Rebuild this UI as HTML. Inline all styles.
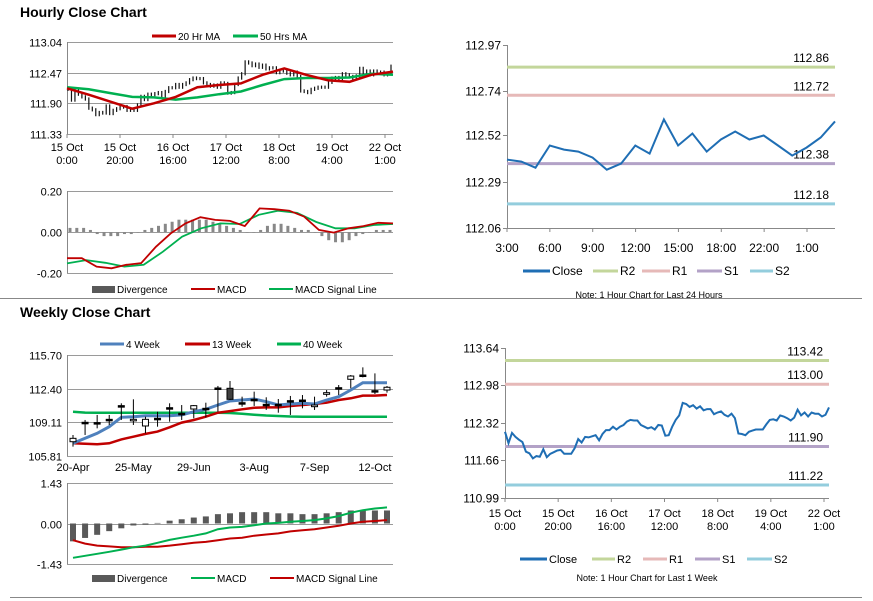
<!DOCTYPE html>
<html><head><meta charset="utf-8">
<style>
html,body{margin:0;padding:0;background:#fff;}
svg{display:block;font-family:"Liberation Sans",Arial,sans-serif;}
.n{font-family:"Liberation Sans Narrow","Liberation Sans",sans-serif;}
</style></head>
<body>
<svg id="root" width="873" height="601" viewBox="0 0 873 601"></svg>
<script>
// ---------- DATA ----------
const hourlyClose=[112.16,111.96,112.14,112.07,112.02,111.98,111.81,111.78,111.69,111.73,111.72,111.85,111.71,111.77,111.80,111.83,111.84,111.77,111.77,111.77,111.87,112.03,111.97,112.07,112.06,112.08,112.10,112.01,112.12,112.19,112.19,112.25,112.20,112.25,112.28,112.34,112.37,112.36,112.36,112.28,112.25,112.22,112.24,112.20,112.28,112.27,112.09,112.10,112.25,112.37,112.45,112.67,112.65,112.60,112.63,112.57,112.61,112.54,112.56,112.56,112.47,112.50,112.52,112.46,112.43,112.48,112.40,112.13,112.12,112.10,112.16,112.18,112.20,112.20,112.20,112.29,112.37,112.38,112.36,112.45,112.43,112.40,112.36,112.41,112.55,112.45,112.50,112.43,112.50,112.48,112.48,112.43,112.46,112.59];
const ma20=[112.18,112.06,111.93,111.80,111.90,112.02,112.20,112.24,112.27,112.43,112.55,112.43,112.33,112.30,112.43,112.49];
const ma50=[112.20,112.16,112.09,112.02,112.01,111.97,112.01,112.07,112.12,112.24,112.35,112.37,112.37,112.38,112.45,112.43];
const hMacd=[-0.128,-0.128,-0.169,-0.177,-0.16,-0.152,-0.072,-0.007,0.042,0.072,0.059,0.054,0.029,0.115,0.111,0.104,0.075,0.010,-0.003,0.018,0.029,0.045,0.042];
const hSignal=[-0.153,-0.137,-0.15,-0.169,-0.16,-0.096,-0.023,0.018,0.042,0.039,0.084,0.104,0.093,0.049,0.018,0.018,0.034,0.039];
const hDiv=[0.02,0.02,0.02,0.01,-0.01,-0.02,-0.02,-0.02,-0.01,-0.01,0,0.01,0.02,0.03,0.04,0.05,0.06,0.06,0.06,0.06,0.06,0.05,0.04,0.03,0.02,0.01,0,0,0.01,0.03,0.04,0.04,0.03,0.02,0.01,0.01,0,-0.02,-0.04,-0.05,-0.05,-0.04,-0.02,-0.01,0,0.01,0.01,0.01];
const hTicks=[["15 Oct","0:00"],["15 Oct","20:00"],["16 Oct","16:00"],["17 Oct","12:00"],["18 Oct","8:00"],["19 Oct","4:00"],["22 Oct","1:00"]];
const dayClose=[112.40,112.39,112.36,112.47,112.45,112.44,112.41,112.35,112.38,112.47,112.43,112.60,112.47,112.53,112.44,112.50,112.54,112.50,112.52,112.47,112.42,112.46,112.51,112.59];
const dayTicks=["3:00","6:00","9:00","12:00","15:00","18:00","22:00","1:00"];
const dayLevels=[112.86,112.72,112.38,112.18];
const weekLevels=[113.42,113.00,111.90,111.22];
const levelNames=["R2","R1","S1","S2"];
const levelColors=["#c3d69b","#e6b9b8","#b3a2c7","#93cddd"];
const wOpen=[107.21,109.11,109.08,109.40,110.74,109.27,108.75,109.50,110.54,109.99,110.41,110.48,112.47,112.44,111.03,111.36,110.87,110.87,111.23,111.29,110.64,111.85,112.50,113.32,113.74,112.21,112.27];
const wClose=[107.54,109.11,109.08,109.40,110.74,109.40,109.40,109.50,110.54,109.99,110.74,110.48,112.47,111.36,111.03,111.36,110.87,110.87,111.23,111.29,110.80,112.01,112.50,113.64,113.74,112.21,112.54];
const wHigh=[107.87,109.34,109.83,109.83,110.97,111.36,109.66,110.15,110.97,110.80,110.80,111.03,112.67,113.15,111.62,112.11,111.56,111.39,111.69,111.78,111.62,112.27,112.76,113.74,114.49,113.90,112.67];
const wLow=[106.73,107.87,108.52,108.85,109.34,108.85,108.03,108.68,109.17,109.34,109.50,109.60,110.15,111.29,110.64,110.71,110.32,110.05,109.83,110.48,110.32,111.62,111.78,112.44,113.51,111.88,112.01];
const wk4=[107.05,107.55,108.03,108.68,109.60,109.66,109.76,109.76,109.76,109.83,110.15,110.38,110.80,111.20,111.29,111.39,111.13,110.80,110.90,110.97,110.90,111.29,111.62,112.27,112.99,112.99,112.99];
const wk13=[107.05,107.00,106.96,107.05,107.44,107.70,107.97,108.20,108.62,109.08,109.34,109.66,110.05,110.21,110.38,110.54,110.57,110.57,110.71,110.80,110.90,111.03,111.29,111.46,111.72,111.72,111.78];
const wk40=[110.15,110.06,110.05,110.05,110.05,110.05,110.05,110.05,110.05,110.05,110.05,110.05,110.05,110.02,109.95,109.85,109.78,109.73,109.68,109.66,109.66,109.66,109.66,109.66,109.66,109.66,109.66];
const wDiv=[-0.63,-0.51,-0.40,-0.27,-0.17,-0.07,-0.04,0.02,0.10,0.15,0.21,0.25,0.33,0.36,0.40,0.40,0.40,0.36,0.36,0.33,0.33,0.36,0.40,0.46,0.46,0.46,0.46];
const wMacd=[-1.21,-1.14,-1.07,-1.00,-0.92,-0.84,-0.78,-0.68,-0.58,-0.50,-0.43,-0.35,-0.20,-0.14,-0.12,-0.06,0.00,0.02,0.06,0.09,0.12,0.18,0.26,0.38,0.47,0.53,0.57];
const wSignal=[-0.59,-0.71,-0.78,-0.81,-0.84,-0.84,-0.82,-0.82,-0.78,-0.73,-0.68,-0.65,-0.59,-0.53,-0.50,-0.43,-0.39,-0.35,-0.28,-0.24,-0.20,-0.14,-0.08,0.00,0.06,0.09,0.12];
const wTicks=["20-Apr","25-May","29-Jun","3-Aug","7-Sep","12-Oct"];
const wTickIdx=[0,5,10,15,20,25];
const weekCloseFull=[112.16,111.96,112.14,112.07,112.02,111.98,111.81,111.78,111.69,111.73,111.72,111.85,111.71,111.77,111.80,111.83,111.84,111.77,111.77,111.77,111.87,112.03,111.97,112.07,112.06,112.08,112.10,112.01,112.12,112.19,112.19,112.25,112.20,112.25,112.28,112.34,112.37,112.36,112.36,112.28,112.25,112.22,112.24,112.20,112.28,112.27,112.09,112.10,112.25,112.37,112.45,112.67,112.65,112.60,112.63,112.57,112.61,112.54,112.56,112.56,112.47,112.50,112.52,112.46,112.43,112.48,112.40,112.13,112.12,112.10,112.16,112.18,112.20,112.20,112.20,112.29,112.37,112.38,112.36,112.45,112.43,112.40,112.36,112.41,112.55,112.45,112.50,112.43,112.50,112.48,112.48,112.43,112.46,112.59];

// ---------- HELPERS ----------
const NS="http://www.w3.org/2000/svg";
const root=document.getElementById('root');
function mk(tag,attrs,parent){const e=document.createElementNS(NS,tag);for(const k in attrs)e.setAttribute(k,attrs[k]);(parent||root).appendChild(e);return e;}
function txt(x,y,s,size,anchor,extra){const e=mk('text',Object.assign({x:x,y:y,'font-size':size,'text-anchor':anchor||'start',fill:'#000'},extra||{}));e.textContent=s;return e;}
function lin(d0,d1,r0,r1){return v=>r0+(v-d0)*(r1-r0)/(d1-d0);}
function pathOf(xs,ys){return xs.map((x,i)=>(i?'L':'M')+x.toFixed(1)+','+ys[i].toFixed(1)).join('');}

// ---------- FRAME ----------
let e;
e=txt(20,17,"Hourly Close Chart",14,'start',{'font-weight':'bold'});


e=txt(20,317,"Weekly Close Chart",14,'start',{'font-weight':'bold'});


e=mk('line',{x1:0,y1:298.5,x2:862,y2:298.5,stroke:'#888','stroke-width':1});


e=mk('line',{x1:10,y1:597.5,x2:862,y2:597.5,stroke:'#888','stroke-width':1});



function gridChart(name,x0,x1,yTop,yBot,ticks,yfn,fmt){
  const g=mk('g',{});
  
  
  ticks.forEach(t=>{const y=Math.round(yfn(t))+0.5;
    const l=mk('line',{x1:x0,y1:y,x2:x1,y2:y,stroke:'#9a9a9a','stroke-width':1},g);
    
    
    const t2=txt(x0-5,y+4,fmt(t),11,'end');g.appendChild(t2);
    
    
  });
  const ax=mk('line',{x1:x0+0.5,y1:yTop,x2:x0+0.5,y2:yBot,stroke:'#888'},g);
  
  
  return g;
}
function legend(items,y){
  items.forEach(it=>{
    let m;
    if(it.box){m=mk('rect',{x:it.x,y:y-3,width:it.w,height:7,fill:it.c});}
    else{m=mk('line',{x1:it.x,y1:y,x2:it.x+it.w,y2:y,stroke:it.c,'stroke-width':it.sw||2});}
    
    
    const t=txt(it.x+it.w+2,y+4,it.t,it.fs||11,'start',it.cls?{class:it.cls}:{});
    
    
  });
}

// ---------- HOURLY PRICE (top-left) ----------
(function(){
  const x0=67,x1=393,y=lin(111.33,113.04,134,42);
  gridChart('hourly-price-grid',x0,x1,42,134,[113.04,112.47,111.90,111.33],y,v=>v.toFixed(2));
  const xt=lin(0,6,x0,385);
  hTicks.forEach((t,i)=>{const x=xt(i);
    e=mk('line',{x1:x,y1:134,x2:x,y2:138,stroke:'#888'});
    
    
    e=txt(x,151,t[0],11,'middle');
    
    
    e=txt(x,164,t[1],11,'middle');
    
    
  });
  const xb=lin(0,hourlyClose.length-1,x0+1,x1-2);
  hourlyClose.forEach((v,i)=>{const p=i?hourlyClose[i-1]:v;
    const hi=Math.max(p,v)+0.03,lo=Math.min(p,v)-0.03;
    const b=mk('line',{x1:xb(i),y1:y(hi),x2:xb(i),y2:y(lo),stroke:'#111','stroke-width':1.2});
    
    
  });
  const xm=lin(0,ma50.length-1,x0,x1);
  e=mk('path',{d:pathOf(ma50.map((v,i)=>xm(i)),ma50.map(y)),fill:'none',stroke:'#00b050','stroke-width':2.5});
  
  
  const xr=lin(0,ma20.length-1,x0,x1);
  e=mk('path',{d:pathOf(ma20.map((v,i)=>xr(i)),ma20.map(y)),fill:'none',stroke:'#c00000','stroke-width':2.5});
  
  
  legend([{id:'ma20',x:152,w:24,c:'#c00000',t:'20 Hr MA',sw:3,fs:10},{id:'ma50',x:233,w:25,c:'#00b050',t:'50 Hrs MA',sw:3,fs:10}],36);
})();

// ---------- HOURLY MACD ----------
(function(){
  const x0=67,x1=393,y=lin(-0.2,0.2,273,191);
  gridChart('hourly-macd-grid',x0,x1,191,273,[0.2,0,-0.2],y,v=>v.toFixed(2));
  const xd=lin(0,hDiv.length-1,x0+3,x1-3);
  hDiv.forEach((v,i)=>{const b=mk('rect',{x:xd(i)-1.5,y:Math.min(y(v),y(0)),width:3,height:Math.max(0.5,Math.abs(y(v)-y(0))),fill:'#888'});
    
    });
  const xs=lin(0,hSignal.length-1,x0,x1);
  e=mk('path',{d:pathOf(hSignal.map((v,i)=>xs(i)),hSignal.map(y)),fill:'none',stroke:'#00b050','stroke-width':1.8});
  
  
  const xm=lin(0,hMacd.length-1,x0,x1);
  e=mk('path',{d:pathOf(hMacd.map((v,i)=>xm(i)),hMacd.map(y)),fill:'none',stroke:'#c00000','stroke-width':1.8});
  
  
  legend([{id:'div',x:92,w:23,c:'#595959',t:'Divergence',box:1,fs:10},{id:'macd',x:191,w:24,c:'#c00000',t:'MACD',fs:10},{id:'signal',x:269,w:24,c:'#00b050',t:'MACD Signal Line',fs:10}],289);
})();

// ---------- LEVEL CHARTS (right) ----------
function levelChart(name,x0,x1,yTop,yBot,d0,d1,ticks,levels,data,xTickFn,legendY,note,noteY){
  const y=lin(d0,d1,yBot,yTop);
  const g=mk('g',{});
  
  
  e=mk('line',{x1:x0+0.5,y1:yTop,x2:x0+0.5,y2:yBot,stroke:'#888'},g);
  
  
  e=mk('line',{x1:x0,y1:yBot+0.5,x2:x1,y2:yBot+0.5,stroke:'#888'},g);
  
  
  ticks.forEach(t=>{const yy=Math.round(y(t))+0.5;
    e=mk('line',{x1:x0-4,y1:yy,x2:x0,y2:yy,stroke:'#888'},g);
    
    
    e=txt(x0-6,yy+4,t.toFixed(2),12,'end',{class:'n'});
    
    });
  levels.forEach((v,i)=>{
    e=mk('line',{x1:x0,y1:y(v),x2:x1,y2:y(v),stroke:levelColors[i],'stroke-width':3});
    
    
    e=txt(x1-6,y(v)-5,v.toFixed(2),12,'end',{class:'n'});
    
    
  });
  xTickFn(y);
  const xs=lin(0,data.length-1,x0,x1);
  e=mk('path',{d:pathOf(data.map((v,i)=>xs(i)),data.map(y)),fill:'none',stroke:'#1f6eb4','stroke-width':2});
  
  
  e=txt(x0+142,noteY,note,9,'middle',{class:'n'});
  
  
}
levelChart('daily-levels-chart',507,835,45,228,112.06,112.97,[112.97,112.74,112.52,112.29,112.06],dayLevels,dayClose,function(){
  const xt=lin(0,dayTicks.length-1,507,807);
  dayTicks.forEach((t,i)=>{const x=xt(i);
    e=mk('line',{x1:x,y1:228,x2:x,y2:232,stroke:'#888'});
    
    
    e=txt(x,252,t,12,'middle',{class:'n'});
    
    });
},271,"Note: 1 Hour Chart for Last 24 Hours",298);
legend([{id:'close',x:523,w:27,c:'#1f6eb4',t:'Close',sw:3,fs:12,cls:'n'},{id:'r2',x:593,w:25,c:levelColors[0],t:'R2',sw:3,fs:12,cls:'n'},{id:'r1',x:642,w:28,c:levelColors[1],t:'R1',sw:3,fs:12,cls:'n'},{id:'s1',x:697,w:25,c:levelColors[2],t:'S1',sw:3,fs:12,cls:'n'},{id:'s2',x:750,w:23,c:levelColors[3],t:'S2',sw:3,fs:12,cls:'n'}],271);

levelChart('weekly-levels-chart',505,829,348,498,110.99,113.64,[113.64,112.98,112.32,111.66,110.99],weekLevels,weekCloseFull,function(){
  const xt=lin(0,6,505,824);
  hTicks.forEach((t,i)=>{const x=xt(i);
    e=mk('line',{x1:x,y1:498,x2:x,y2:502,stroke:'#888'});
    
    
    e=txt(x,517,t[0],11,'middle');
    
    
    e=txt(x,530,t[1],11,'middle');
    
    });
},559,"Note: 1 Hour Chart for Last 1 Week",581);
legend([{id:'close-w',x:520,w:27,c:'#1f6eb4',t:'Close',sw:3,fs:11},{id:'r2-w',x:592,w:23,c:levelColors[0],t:'R2',sw:3,fs:11},{id:'r1-w',x:643,w:24,c:levelColors[1],t:'R1',sw:3,fs:11},{id:'s1-w',x:695,w:25,c:levelColors[2],t:'S1',sw:3,fs:11},{id:'s2-w',x:747,w:25,c:levelColors[3],t:'S2',sw:3,fs:11}],559);

// ---------- WEEKLY PRICE ----------
(function(){
  const x0=67,x1=393,y=lin(105.81,115.70,456,355);
  gridChart('weekly-price-grid',x0,x1,355,456,[115.70,112.40,109.11,105.81],y,v=>v.toFixed(2));
  const xw=lin(0,wOpen.length-1,73,387);
  wTicks.forEach((t,i)=>{const x=xw(wTickIdx[i]);
    e=txt(x,471,t,11,'middle');
    
    });
  e=mk('path',{d:pathOf(wk40.map((v,i)=>xw(i)),wk40.map(y)),fill:'none',stroke:'#00b050','stroke-width':2.5});
  
  
  e=mk('path',{d:pathOf(wk13.map((v,i)=>xw(i)),wk13.map(y)),fill:'none',stroke:'#c00000','stroke-width':2.5});
  
  
  e=mk('path',{d:pathOf(wk4.map((v,i)=>xw(i)),wk4.map(y)),fill:'none',stroke:'#4f81bd','stroke-width':3});
  
  
  wOpen.forEach((o,i)=>{const c=wClose[i],x=xw(i);
    const w=mk('line',{x1:x,y1:y(wHigh[i]),x2:x,y2:y(wLow[i]),stroke:'#000','stroke-width':1});
    
    
    const top=y(Math.max(o,c)),bot=y(Math.min(o,c));
    const r=mk('rect',{x:x-3,y:top,width:6,height:Math.max(1.5,bot-top),fill:c>o?'#fff':(c<o?'#404040':'#000'),stroke:'#000','stroke-width':1});
    
    
  });
  legend([{id:'wk4',x:100,w:24,c:'#4f81bd',t:'4 Week',sw:3,fs:10},{id:'wk13',x:185,w:25,c:'#c00000',t:'13 Week',sw:3,fs:10},{id:'wk40',x:277,w:24,c:'#00b050',t:'40 Week',sw:3,fs:10}],344);
})();

// ---------- WEEKLY MACD ----------
(function(){
  const x0=67,x1=393,y=lin(-1.43,1.43,564,483);
  gridChart('weekly-macd-grid',x0,x1,483,564,[1.43,0,-1.43],y,v=>v.toFixed(2));
  const xw=lin(0,wDiv.length-1,73,387);
  wDiv.forEach((v,i)=>{const b=mk('rect',{x:xw(i)-3,y:Math.min(y(v),y(0)),width:6,height:Math.max(0.5,Math.abs(y(v)-y(0))),fill:'#595959'});
    
    });
  e=mk('path',{d:pathOf(wSignal.map((v,i)=>xw(i)),wSignal.map(y)),fill:'none',stroke:'#c00000','stroke-width':2});
  
  
  e=mk('path',{d:pathOf(wMacd.map((v,i)=>xw(i)),wMacd.map(y)),fill:'none',stroke:'#00b050','stroke-width':2});
  
  
  legend([{id:'wdiv',x:92,w:23,c:'#595959',t:'Divergence',box:1,fs:10},{id:'wmacd',x:191,w:24,c:'#00b050',t:'MACD',fs:10},{id:'wsignal',x:270,w:24,c:'#c00000',t:'MACD Signal Line',fs:10}],578);
})();
</script>
</body></html>
